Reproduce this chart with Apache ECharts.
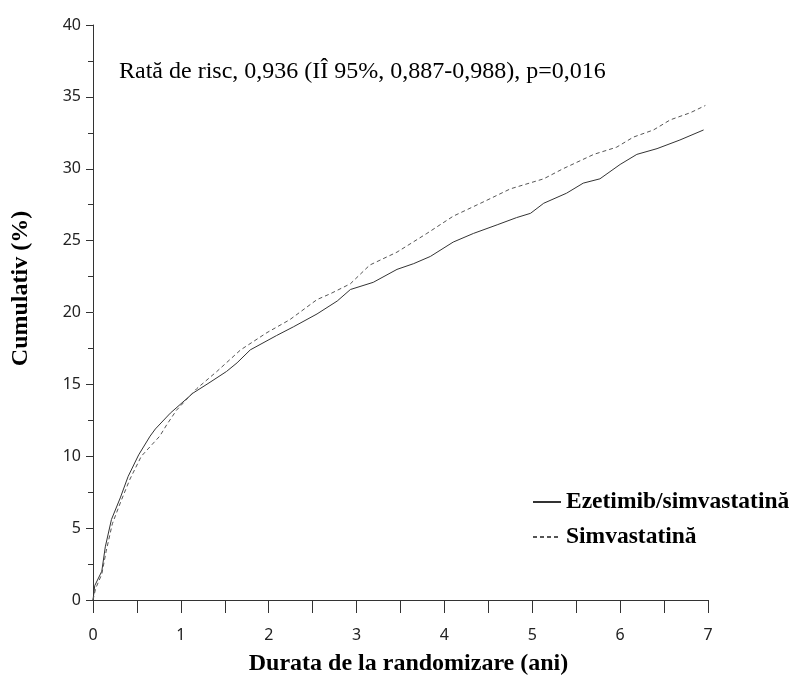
<!DOCTYPE html>
<html>
<head>
<meta charset="utf-8">
<script src="https://cdn.jsdelivr.net/npm/echarts@6/dist/echarts.min.js"></script>
<style>html,body{margin:0;padding:0;background:#fff;}#c{width:795px;height:676px;}</style>
</head>
<body>
<div id="c"></div>
<script>
// Ezetimib/simvastatină (solid)
const ezeT = [0,0.02,0.1,0.14,0.21,0.31,0.40,0.52,0.65,0.71,0.88,1.14,1.32,1.52,1.64,1.79,2.09,2.28,2.55,2.78,2.93,3.19,3.46,3.65,3.84,4.10,4.33,4.60,4.82,4.98,5.13,5.39,5.58,5.77,6.0,6.19,6.42,6.68,6.95];
const ezeV = [0,1.0,2.0,3.7,5.6,7.1,8.6,10.1,11.4,11.9,13.0,14.4,15.1,15.9,16.5,17.4,18.4,19.0,19.9,20.8,21.6,22.1,23.0,23.4,23.9,24.9,25.5,26.1,26.6,26.9,27.6,28.3,29.0,29.3,30.3,31.0,31.4,32.0,32.7];
// Simvastatină (dashed)
const simT = [0,0.03,0.1,0.15,0.22,0.32,0.42,0.55,0.76,0.84,0.95,1.18,1.41,1.68,1.98,2.24,2.55,2.70,2.93,3.15,3.46,3.80,4.10,4.48,4.75,5.13,5.35,5.70,5.96,6.15,6.38,6.57,6.80,6.97];
const simV = [0,0.8,1.8,3.4,5.3,6.9,8.4,10.0,11.4,12.2,13.2,14.7,15.9,17.4,18.6,19.5,20.9,21.3,22.0,23.3,24.2,25.5,26.7,27.8,28.6,29.3,30.0,31.0,31.5,32.2,32.7,33.4,33.9,34.4];

const seriesNames = ['Ezetimib/simvastatină', 'Simvastatină'];
const annotation = 'Rată de risc, 0,936 (IÎ 95%, 0,887-0,988), p=0,016';
const xName = 'Durata de la randomizare (ani)';
const yName = 'Cumulativ (%)';

const serif = '"Liberation Serif", "Times New Roman", serif';
const sans = '"Noto Sans", "Open Sans", sans-serif';

const chart = echarts.init(document.getElementById('c'), null, {renderer: 'canvas'});
chart.setOption({
  animation: false,
  backgroundColor: '#fff',
  grid: {left: 93, top: 25, right: 87, bottom: 76, containLabel: false, outerBoundsMode: 'none'},
  xAxis: {
    type: 'value', min: 0, max: 7, interval: 0.5,
    name: xName, nameLocation: 'middle', nameGap: 52,
    nameTextStyle: {fontFamily: serif, fontWeight: 'bold', fontSize: 24, color: '#000', padding: [0, 0, 0, 16]},
    axisLine: {show: true, lineStyle: {color: '#333', width: 1}},
    axisTick: {show: true, length: 13, inside: false, lineStyle: {color: '#333'}},
    axisLabel: {
      fontFamily: sans, fontSize: 16, color: '#222', margin: 27,
      formatter: v => (Math.abs(v - Math.round(v)) < 1e-6 ? String(Math.round(v)) : '')
    },
    splitLine: {show: false}
  },
  yAxis: {
    type: 'value', min: 0, max: 40, interval: 5,
    name: yName, nameLocation: 'middle', nameGap: 60, nameRotate: 90,
    nameTextStyle: {fontFamily: serif, fontWeight: 'bold', fontSize: 24, color: '#000', padding: [0, 0, 0, 48]},
    axisLine: {show: true, lineStyle: {color: '#333', width: 1}},
    axisTick: {show: true, length: 7, lineStyle: {color: '#333'}},
    minorTick: {show: true, splitNumber: 2, length: 5, lineStyle: {color: '#333'}},
    axisLabel: {fontFamily: sans, fontSize: 16, color: '#222', margin: 12},
    splitLine: {show: false}
  },
  legend: {
    orient: 'vertical', left: 527, top: 485, itemWidth: 28, itemHeight: 14, itemGap: 11,
    itemStyle: {opacity: 0},
    textStyle: {fontFamily: serif, fontWeight: 'bold', fontSize: 23.5, color: '#000'},
    data: seriesNames
  },
  graphic: [{
    type: 'text', left: 119, top: 60,
    style: {text: annotation, font: '24px ' + serif, fill: '#000'}
  }],
  series: [
    {
      name: seriesNames[0], type: 'line', symbol: 'none', smooth: false,
      data: ezeT.map((t, i) => [t, ezeV[i]]),
      lineStyle: {color: '#333', width: 1, type: 'solid'},
      itemStyle: {color: '#333'}
    },
    {
      name: seriesNames[1], type: 'line', symbol: 'none', smooth: false,
      data: simT.map((t, i) => [t, simV[i]]),
      lineStyle: {color: '#555', width: 1, type: [4, 3]},
      itemStyle: {color: '#555'}
    }
  ]
});
</script>
</body>
</html>
